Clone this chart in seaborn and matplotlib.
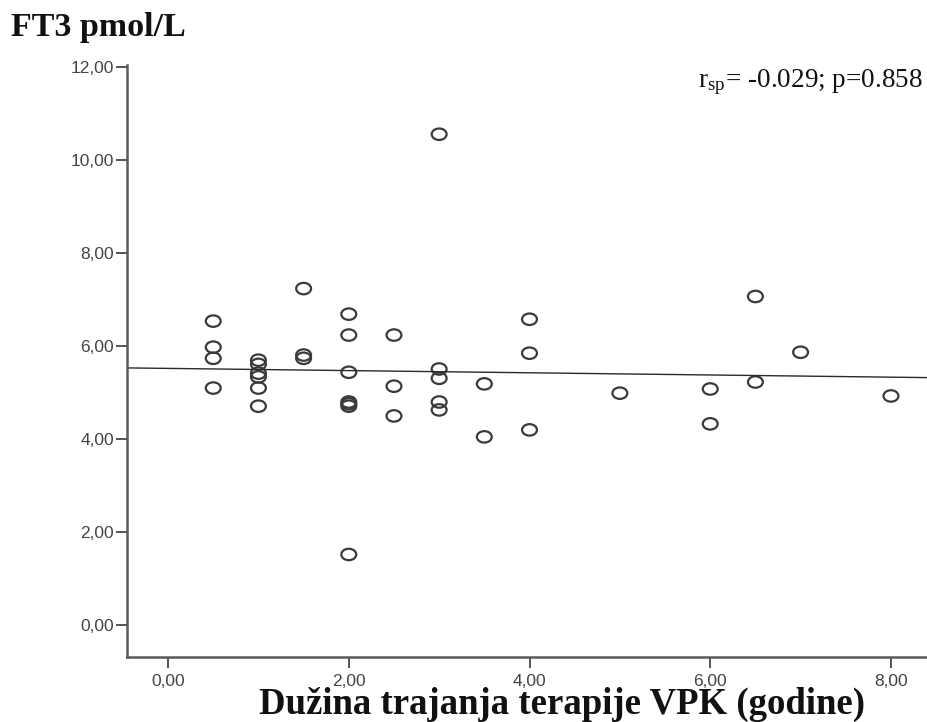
import matplotlib
matplotlib.use("Agg")
import matplotlib.pyplot as plt
from matplotlib.path import Path
from matplotlib.transforms import Affine2D
import seaborn as sns
import numpy as np

# years of VPK therapy and FT3 (pmol/L)
years = [0.5, 0.5, 0.5, 0.5,
         1.0, 1.0, 1.0, 1.0, 1.0, 1.0,
         1.5, 1.5, 1.5,
         2.0, 2.0, 2.0, 2.0, 2.0, 2.0, 2.0,
         2.5, 2.5, 2.5,
         3.0, 3.0, 3.0, 3.0, 3.0,
         3.5, 3.5,
         4.0, 4.0, 4.0,
         5.0,
         6.0, 6.0,
         6.5, 6.5,
         7.0,
         8.0]
ft3 = [6.54, 5.98, 5.74, 5.10,
       5.70, 5.61, 5.42, 5.34, 5.10, 4.71,
       7.24, 5.81, 5.74,
       6.69, 6.24, 5.44, 4.80, 4.76, 4.71, 1.52,
       6.24, 5.14, 4.50,
       10.56, 5.51, 5.31, 4.80, 4.63,
       5.19, 4.05,
       6.58, 5.85, 4.20,
       4.99,
       5.08, 4.33,
       7.07, 5.23,
       5.87,
       4.93]

xticks = [0, 2, 4, 6, 8]
xtick_labels = ["0,00", "2,00", "4,00", "6,00", "8,00"]
yticks = [0, 2, 4, 6, 8, 10, 12]
ytick_labels = ["0,00", "2,00", "4,00", "6,00", "8,00", "10,00", "12,00"]

sns.set_style("white")
plt.rcParams["font.family"] = ["Liberation Sans", "DejaVu Sans"]
plt.rcParams["mathtext.fontset"] = "stix"

fig = plt.figure(figsize=(9.28, 7.22), dpi=100)
ax = fig.add_axes([0.1369, 0.0900, 0.8631, 0.8200])
ax.set_xlim(-0.454, 8.41)
ax.set_ylim(-0.686, 12.05)

# SPSS style open ellipse marker (picture is stretched sideways)
ellipse = Path.unit_circle().transformed(Affine2D().scale(1.3, 1.0))

sns.scatterplot(x=years, y=ft3, ax=ax, marker=ellipse, s=115,
                facecolors="none", edgecolor="#3a3a3a", linewidth=1.6)
sns.regplot(x=years, y=ft3, ax=ax, scatter=False, ci=None, truncate=False,
            line_kws=dict(color="#2a2a2a", lw=1.0))

ax.set_xlim(-0.454, 8.41)
ax.set_ylim(-0.686, 12.05)

ax.set_xticks(xticks)
ax.set_xticklabels(xtick_labels)
ax.set_yticks(yticks)
ax.set_yticklabels(ytick_labels)
ax.tick_params(axis="both", bottom=True, left=True, direction="out",
               length=8, width=1.4, color="#555555", labelsize=12.5,
               labelcolor="#444444", pad=1.5)
ax.tick_params(axis="x", pad=4)

for side in ["top", "right"]:
    ax.spines[side].set_visible(False)
for side in ["left", "bottom"]:
    ax.spines[side].set_color("#5a5a5a")
    ax.spines[side].set_linewidth(1.8)

ax.set_xlabel("")
ax.set_ylabel("")

fig.text(0.012, 0.962, "FT3 pmol/L", family="Liberation Serif",
         fontweight="bold", fontsize=24.5, ha="left", va="center", color="#111111")
fig.text(0.606, 0.024, "Dužina trajanja terapije VPK (godine)",
         family="Liberation Serif", fontweight="bold", fontsize=26.5,
         ha="center", va="center", color="#111111")
fig.text(0.994, 0.886, r"r$_{\mathregular{sp}}$= -0.029; p=0.858",
         family="Liberation Serif", fontsize=19.5, ha="right", va="center",
         color="#111111")

fig.savefig("out.png", dpi=100)
